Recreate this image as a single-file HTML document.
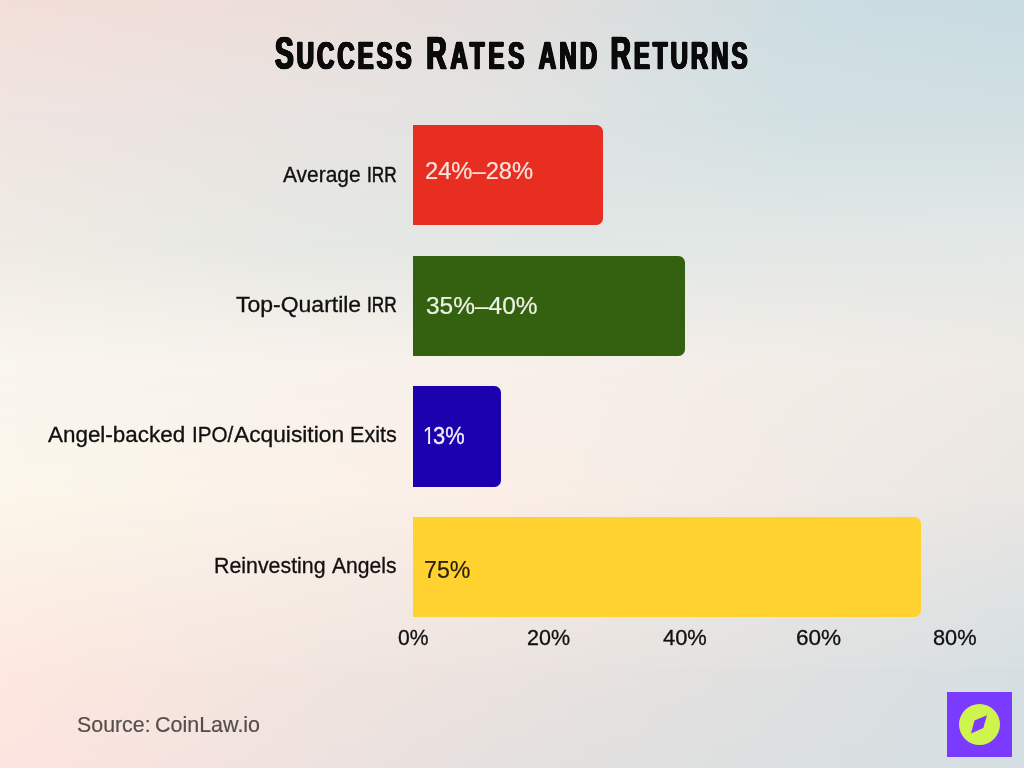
<!DOCTYPE html>
<html lang="en">
<head>
<meta charset="utf-8">
<title>Success Rates and Returns</title>
<style>
html,body{margin:0;padding:0;}
body{width:1024px;height:768px;overflow:hidden;position:relative;background:#e8e4e1;font-family:"Liberation Sans",sans-serif;}
.bg{position:absolute;left:0;top:0;width:1024px;height:768px;}
.b0{background:linear-gradient(to right,#F3DFD9 0%,#EEDEDA 27%,#E2DFDD 52%,#CCDDE2 80%,#C8DCE2 100%);}
.b1{background:linear-gradient(to right,#F0E4E0 0%,#E3E3E1 48%,#D1E0E3 78%,#D1DFE2 100%);
  -webkit-mask-image:linear-gradient(to bottom,transparent 0px,#000 110px);mask-image:linear-gradient(to bottom,transparent 0px,#000 110px);}
.b2{background:linear-gradient(to right,#EFEBE4 0%,#E6E8E3 28%,#E1E7E5 52%,#E3E8E6 100%);
  -webkit-mask-image:linear-gradient(to bottom,transparent 110px,#000 240px);mask-image:linear-gradient(to bottom,transparent 110px,#000 240px);}
.b3{background:linear-gradient(to right,#F9F6EF 0%,#F8F0EA 50%,#EEEAE5 100%);
  -webkit-mask-image:linear-gradient(to bottom,transparent 240px,#000 370px);mask-image:linear-gradient(to bottom,transparent 240px,#000 370px);}
.b4{background:linear-gradient(to right,#FBF6EA 0%,#FAEEE6 50%,#E9E6E3 100%);
  -webkit-mask-image:linear-gradient(to bottom,transparent 370px,#000 500px);mask-image:linear-gradient(to bottom,transparent 370px,#000 500px);}
.b5{background:linear-gradient(to right,#FDE8DF 0%,#EBE3DF 50%,#D6DFE2 100%);
  -webkit-mask-image:linear-gradient(to bottom,transparent 500px,#000 670px);mask-image:linear-gradient(to bottom,transparent 500px,#000 670px);}
.b6{background:linear-gradient(to right,#FDE4DF 0%,#E4E0DE 50%,#D3DEE2 100%);
  -webkit-mask-image:linear-gradient(to bottom,transparent 670px,#000 768px);mask-image:linear-gradient(to bottom,transparent 670px,#000 768px);}

.title{position:absolute;left:275.1px;top:25.7px;white-space:nowrap;
  font-weight:bold;color:#0b0b0b;font-size:45.4px;line-height:56px;-webkit-text-stroke:0.7px #0b0b0b;letter-spacing:5.3px;
  transform:scaleX(0.617);transform-origin:0 0;
  text-shadow:0.5px 0 0 #0b0b0b,-0.5px 0 0 #0b0b0b,1px 0 0 #0b0b0b,-1px 0 0 #0b0b0b,1.5px 0 0 #0b0b0b,-1.5px 0 0 #0b0b0b;}
.title .w{display:inline-block;}
.title .sc{font-size:38.8px;}

.bar{position:absolute;left:413px;height:100px;border-radius:0 6.5px 6.5px 0;}
.g{position:absolute;left:0;margin:0;padding:0;font-size:0;line-height:0;white-space:nowrap;}
.t{display:inline-block;position:relative;width:0;overflow:visible;vertical-align:top;white-space:nowrap;line-height:normal;transform-origin:0 0;}
.c{display:inline-block;position:relative;vertical-align:top;background:#1C02AE;}
.logo{position:absolute;left:947px;top:692px;width:65px;height:65px;}
</style>
</head>
<body>
<div class="bg b0"></div><div class="bg b1"></div><div class="bg b2"></div><div class="bg b3"></div><div class="bg b4"></div><div class="bg b5"></div><div class="bg b6"></div>

<div class="title"><span class="w" style="letter-spacing:4.9px;">S<span class="sc">UCCESS</span></span> <span class="w" style="margin-left:1.08px;letter-spacing:6.3px;">R<span class="sc">ATES</span></span> <span class="w" style="margin-left:-0.62px;"><span class="sc">AND</span></span> <span class="w" style="margin-left:-1.32px;letter-spacing:4.9px;">R<span class="sc">ETURNS</span></span></div>

<div class="bar" style="top:125px;width:189.5px;background:#E82E21;"></div>
<div class="bar" style="top:256px;width:271.5px;background:#33610F;"></div>
<div class="bar" style="top:386.2px;height:100.7px;width:88px;background:#1C02AE;"></div>
<div class="bar" style="top:517.3px;width:508.3px;background:#FFD230;"></div>





<!--TEXTS-->
<div class="g" style="top:162.61px;"><span class="t" style="left:283.00px;font-size:21.2px;color:#101010;-webkit-text-stroke:0.30px #101010;transform:scaleX(0.9878);">Average</span> <span class="t" style="left:366.89px;font-size:21.2px;color:#101010;-webkit-text-stroke:0.51px #101010;transform:scaleX(0.8128);">IRR</span></div>
<div class="g" style="top:292.71px;"><span class="t" style="left:235.80px;font-size:21.2px;color:#101010;-webkit-text-stroke:0.30px #101010;transform:scaleX(1.0845);">Top-Quartile</span> <span class="t" style="left:366.89px;font-size:21.2px;color:#101010;-webkit-text-stroke:0.51px #101010;transform:scaleX(0.8128);">IRR</span></div>
<div class="g" style="top:423.41px;"><span class="t" style="left:48.20px;font-size:21.2px;color:#101010;-webkit-text-stroke:0.30px #101010;transform:scaleX(1.0584);">Angel-backed</span> <span class="t" style="left:192.03px;font-size:21.2px;color:#101010;-webkit-text-stroke:0.30px #101010;transform:scaleX(0.9735);">IPO/</span><span class="t" style="left:234.20px;font-size:21.2px;color:#101010;-webkit-text-stroke:0.30px #101010;transform:scaleX(1.0740);">Acquisition</span> <span class="t" style="left:350.28px;font-size:21.2px;color:#101010;-webkit-text-stroke:0.30px #101010;transform:scaleX(1.0176);">Exits</span></div>
<div class="g" style="top:554.41px;"><span class="t" style="left:213.69px;font-size:21.2px;color:#101010;-webkit-text-stroke:0.30px #101010;transform:scaleX(1.0080);">Reinvesting</span> <span class="t" style="left:332.00px;font-size:21.2px;color:#101010;-webkit-text-stroke:0.30px #101010;transform:scaleX(0.9970);">Angels</span></div>
<div class="g" style="top:156.84px;"><span class="t" style="left:424.64px;font-size:24.6px;color:#FBE3DF;-webkit-text-stroke:0.22px #FBE3DF;transform:scaleX(0.9641);">24%–28%</span></div>
<div class="g" style="top:291.74px;"><span class="t" style="left:425.60px;font-size:24.6px;color:#EEF3E8;-webkit-text-stroke:0.22px #EEF3E8;transform:scaleX(0.9941);">35%–40%</span></div>
<div class="g" style="top:421.84px;"><span class="t" style="left:423.30px;font-size:24.6px;color:#F1EEFB;-webkit-text-stroke:0.2px #F1EEFB;transform:scaleX(0.8462);clip-path:inset(0 -8.54px 0 0);">1</span><i class="c" style="left:424.34px;top:20.17px;width:4.10px;margin-right:-4.10px;height:2.71px;"></i><span class="t" style="left:433.10px;font-size:24.6px;color:#F1EEFB;-webkit-text-stroke:0.34px #F1EEFB;transform:scaleX(0.8882);">3%</span></div>
<div class="g" style="top:555.74px;"><span class="t" style="left:423.86px;font-size:24.6px;color:#2A2208;-webkit-text-stroke:0.22px #2A2208;transform:scaleX(0.9418);">75%</span></div>
<div class="g" style="top:624.75px;"><span class="t" style="left:397.80px;font-size:21.6px;color:#101010;-webkit-text-stroke:0.30px #101010;transform:scaleX(0.9771);">0%</span></div>
<div class="g" style="top:624.75px;"><span class="t" style="left:526.71px;font-size:21.6px;color:#101010;-webkit-text-stroke:0.30px #101010;transform:scaleX(0.9948);">20%</span></div>
<div class="g" style="top:624.75px;"><span class="t" style="left:662.60px;font-size:21.6px;color:#101010;-webkit-text-stroke:0.30px #101010;transform:scaleX(1.0135);">40%</span></div>
<div class="g" style="top:624.75px;"><span class="t" style="left:796.16px;font-size:21.6px;color:#101010;-webkit-text-stroke:0.30px #101010;transform:scaleX(1.0448);">60%</span></div>
<div class="g" style="top:624.75px;"><span class="t" style="left:933.00px;font-size:21.6px;color:#101010;-webkit-text-stroke:0.30px #101010;transform:scaleX(1.0089);">80%</span></div>
<div class="g" style="top:712.72px;"><span class="t" style="left:77.40px;font-size:21.3px;color:#554e4b;-webkit-text-stroke:0.20px #554e4b;transform:scaleX(1.0031);">Source:</span> <span class="t" style="left:154.89px;font-size:21.3px;color:#554e4b;-webkit-text-stroke:0.20px #554e4b;transform:scaleX(1.0084);">CoinLaw.io</span></div>
<!--/TEXTS-->

<svg class="logo" viewBox="0 0 65 65">
  <rect x="0" y="0" width="65" height="65" fill="#7A3BFF"/>
  <circle cx="32.5" cy="32.5" r="20.5" fill="#CFF44D"/>
  <polygon points="40,23.3 36.3,36.1 24,41.6 27.5,28.4" fill="#7A3BFF"/>
</svg>
</body>
</html>
